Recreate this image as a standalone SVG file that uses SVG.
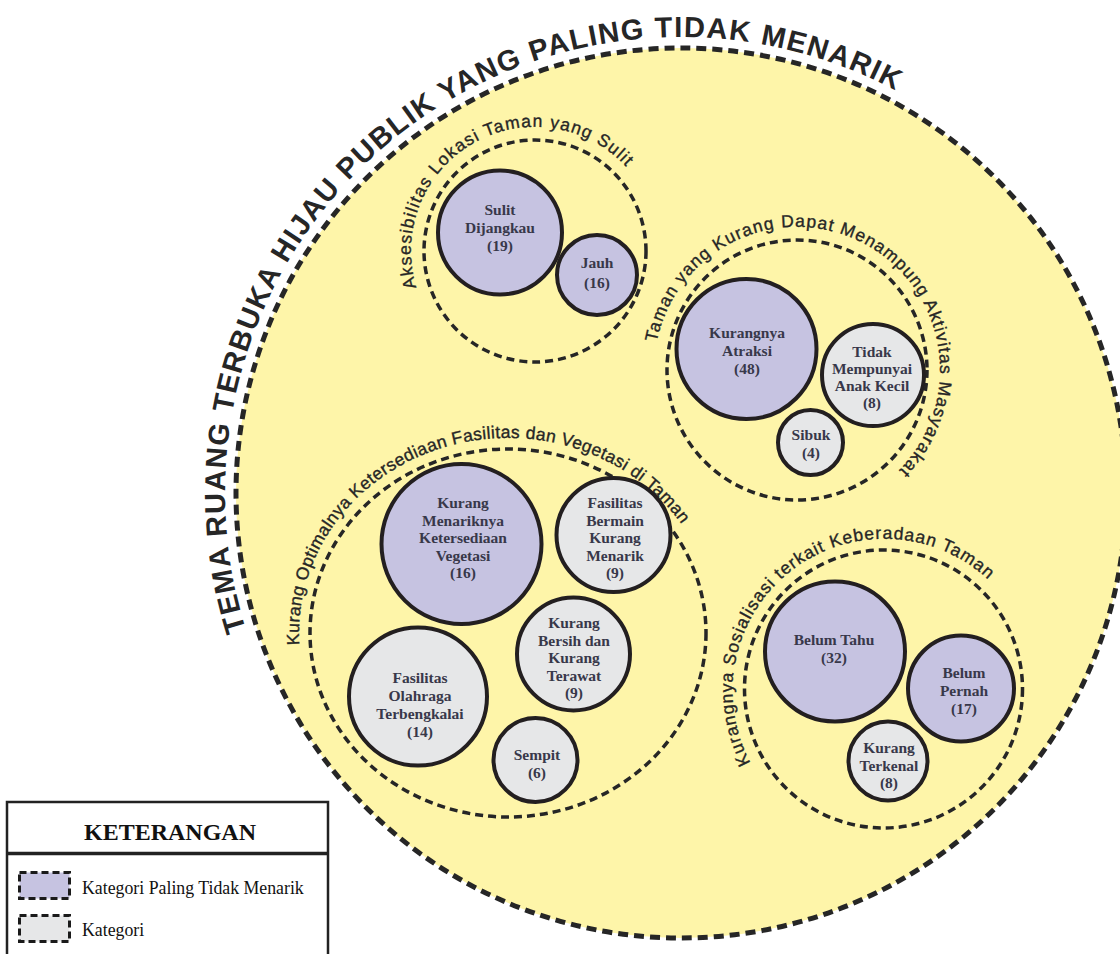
<svg xmlns="http://www.w3.org/2000/svg" width="1120" height="954" viewBox="0 0 1120 954">
<style>
.outer{fill:#FEF5A9;stroke:#262626;stroke-width:5;stroke-dasharray:10 6}
.cat{fill:none;stroke:#262626;stroke-width:3.5;stroke-dasharray:8 5}
.p{fill:#C6C3E1;stroke:#231F20;stroke-width:4}
.g{fill:#E6E7E8;stroke:#231F20;stroke-width:4}
.nt{font-family:"Liberation Serif",serif;font-weight:bold;font-size:15.5px;fill:#38384a;text-anchor:middle}
.lab{font-family:"Liberation Sans",Arial,sans-serif;font-size:17.5px;fill:#262626;stroke:#262626;stroke-width:0.35}
.title{font-family:"Liberation Sans",Arial,sans-serif;font-weight:bold;font-size:29px;fill:#262626;letter-spacing:1.4px}
.lg{font-family:"Liberation Serif",serif;fill:#111}
.sw{stroke:#1a1a1a;stroke-width:3;stroke-dasharray:7 4}
</style>
<defs>
<path id="pTitle" d="M 246.1 630.1 A 456 456 0 0 1 1030.3 199.9"/>
<path id="p1" d="M 416.4 287.3 A 124 124 0 0 1 651.5 208.6"/>
<path id="p2" d="M 656.7 342.5 A 143 143 0 1 1 868.5 493.8"/>
<path id="p3" d="M 299.4 644.9 A 209 195 0 0 1 709.9 582.5"/>
<path id="p4" d="M 750.6 762.7 A 152 152 0 0 1 1015.1 613"/>
</defs>

<g id="theme">
<circle class="outer" cx="681" cy="493" r="445"/>
<text class="title"><textPath href="#pTitle">TEMA RUANG TERBUKA HIJAU PUBLIK YANG PALING TIDAK MENARIK</textPath></text>
</g>

<g id="cat-aksesibilitas">
<circle class="cat" cx="535" cy="251" r="111"/>
<text class="lab" style="letter-spacing:1.2px"><textPath href="#p1">Aksesibilitas Lokasi Taman yang Sulit</textPath></text>
</g>
<g id="cat-aktivitas">
<circle class="cat" cx="797" cy="370" r="130"/>
<text class="lab" style="letter-spacing:1.08px"><textPath href="#p2">Taman yang Kurang Dapat Menampung Aktivitas Masyarakat</textPath></text>
</g>
<g id="cat-fasilitas">
<ellipse class="cat" cx="508" cy="633" rx="198" ry="184"/>
<text class="lab" style="letter-spacing:0.35px"><textPath href="#p3">Kurang Optimalnya Ketersediaan Fasilitas dan Vegetasi di Taman</textPath></text>
</g>
<g id="cat-sosialisasi">
<circle class="cat" cx="883.5" cy="689" r="139"/>
<text class="lab" style="letter-spacing:1.0px"><textPath href="#p4">Kurangnya Sosialisasi terkait Keberadaan Taman</textPath></text>
</g>

<g id="n-sulit-dijangkau">
<circle class="p" cx="500" cy="232.5" r="62"/>
<text class="nt" x="500" y="215">Sulit</text>
<text class="nt" x="500" y="233">Dijangkau</text>
<text class="nt" x="500" y="251">(19)</text>
</g>
<g id="n-jauh">
<circle class="p" cx="597" cy="275" r="40"/>
<text class="nt" x="597" y="268">Jauh</text>
<text class="nt" x="597" y="288">(16)</text>
</g>

<g id="n-kurangnya-atraksi">
<circle class="p" cx="746.5" cy="349" r="70"/>
<text class="nt" x="747" y="338">Kurangnya</text>
<text class="nt" x="747" y="356">Atraksi</text>
<text class="nt" x="747" y="374">(48)</text>
</g>
<g id="n-tidak-mempunyai">
<circle class="g" cx="873" cy="375" r="51"/>
<text class="nt" x="872" y="357">Tidak</text>
<text class="nt" x="872" y="374">Mempunyai</text>
<text class="nt" x="872" y="391">Anak Kecil</text>
<text class="nt" x="872" y="408">(8)</text>
</g>
<g id="n-sibuk">
<circle class="g" cx="810.5" cy="442.5" r="32.5"/>
<text class="nt" x="811" y="440">Sibuk</text>
<text class="nt" x="811" y="458">(4)</text>
</g>

<g id="n-vegetasi">
<circle class="p" cx="461.5" cy="544" r="80"/>
<text class="nt" x="463" y="508">Kurang</text>
<text class="nt" x="463" y="525.5">Menariknya</text>
<text class="nt" x="463" y="543">Ketersediaan</text>
<text class="nt" x="463" y="560.5">Vegetasi</text>
<text class="nt" x="463" y="578">(16)</text>
</g>
<g id="n-fasilitas-bermain">
<circle class="g" cx="613.5" cy="535" r="57"/>
<text class="nt" x="615" y="508">Fasilitas</text>
<text class="nt" x="615" y="525.5">Bermain</text>
<text class="nt" x="615" y="543">Kurang</text>
<text class="nt" x="615" y="560.5">Menarik</text>
<text class="nt" x="615" y="578">(9)</text>
</g>
<g id="n-kurang-bersih">
<circle class="g" cx="573.5" cy="654" r="56.5"/>
<text class="nt" x="574" y="628">Kurang</text>
<text class="nt" x="574" y="645.5">Bersih dan</text>
<text class="nt" x="574" y="663">Kurang</text>
<text class="nt" x="574" y="680.5">Terawat</text>
<text class="nt" x="574" y="698">(9)</text>
</g>
<g id="n-fasilitas-olahraga">
<circle class="g" cx="418" cy="696.5" r="69"/>
<text class="nt" x="420" y="683">Fasilitas</text>
<text class="nt" x="420" y="701">Olahraga</text>
<text class="nt" x="420" y="719">Terbengkalai</text>
<text class="nt" x="420" y="737">(14)</text>
</g>
<g id="n-sempit">
<circle class="g" cx="535.5" cy="760" r="42"/>
<text class="nt" x="537" y="760">Sempit</text>
<text class="nt" x="537" y="778">(6)</text>
</g>

<g id="n-belum-tahu">
<circle class="p" cx="835" cy="651.5" r="70"/>
<text class="nt" x="834" y="645">Belum Tahu</text>
<text class="nt" x="834" y="663">(32)</text>
</g>
<g id="n-belum-pernah">
<circle class="p" cx="961" cy="688.5" r="53"/>
<text class="nt" x="964" y="678">Belum</text>
<text class="nt" x="964" y="696">Pernah</text>
<text class="nt" x="964" y="714">(17)</text>
</g>
<g id="n-kurang-terkenal">
<circle class="g" cx="888" cy="761" r="39.5"/>
<text class="nt" x="889" y="753">Kurang</text>
<text class="nt" x="889" y="770.5">Terkenal</text>
<text class="nt" x="889" y="788">(8)</text>
</g>

<g id="connectors"></g>

<g id="legend">
<rect x="7" y="802" width="321" height="170" fill="#fff" stroke="#222" stroke-width="2.5"/>
<line x1="7" y1="853.5" x2="328" y2="853.5" stroke="#222" stroke-width="3.5"/>
<text class="lg" x="170" y="840" font-size="24" font-weight="bold" text-anchor="middle">KETERANGAN</text>
<rect class="sw" x="19.5" y="872.5" width="50" height="26" fill="#C6C3E1"/>
<text class="lg" x="82" y="894" font-size="17.8">Kategori Paling Tidak Menarik</text>
<rect class="sw" x="19.5" y="915.5" width="50" height="26" fill="#E6E7E8"/>
<text class="lg" x="82" y="936" font-size="17.8">Kategori</text>
</g>
</svg>
